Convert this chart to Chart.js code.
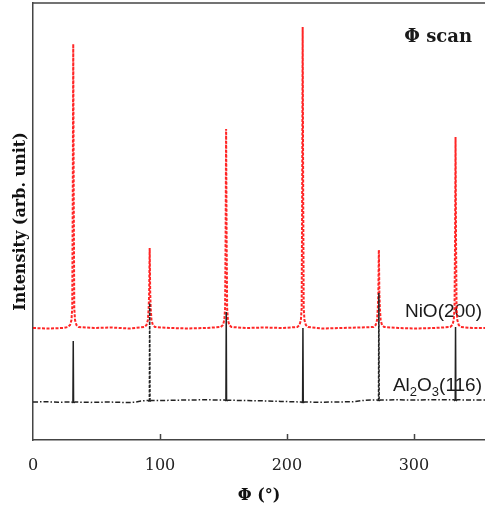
<!DOCTYPE html>
<html>
<head>
<meta charset="utf-8">
<script src="https://cdn.jsdelivr.net/npm/chart.js@4.4.1/dist/chart.umd.min.js"></script>
<style>
  html, body { margin: 0; padding: 0; background: #fff; overflow: hidden; }
  #phiChart { display: block; }
</style>
</head>
<body>
<canvas id="phiChart" width="485" height="508"></canvas>
<script>
'use strict';

// NiO(200) phi scan (arb. units)
var nioPhi = [0, 12, 24,
  27.5, 29.2, 30.3, 30.9, 31.3, 31.7, 32.1, 32.5, 33.1, 34.2, 35.9,
  48, 62, 76,
  87.7, 89.4, 90.5, 91.1, 91.5, 91.9, 92.3, 92.7, 93.3, 94.4, 96.1,
  108, 122, 136,
  147.9, 149.6, 150.7, 151.3, 151.7, 152.1, 152.5, 152.9, 153.5, 154.6, 156.3,
  168, 182, 196,
  208.2, 209.9, 211.0, 211.6, 212.0, 212.4, 212.8, 213.2, 213.8, 214.9, 216.6,
  228, 242, 256,
  268.2, 269.9, 271.0, 271.6, 272.0, 272.4, 272.8, 273.2, 273.8, 274.9, 276.6,
  288, 302, 316,
  328.6, 330.3, 331.4, 332.0, 332.4, 332.8, 333.2, 333.6, 334.2, 335.3, 337.0,
  346, 356];
var nioInt = [112, 111.5, 112,
  113, 115, 120, 132, 240, 396, 240, 132, 120, 115, 113,
  112, 112.5, 111.5,
  113, 115, 120, 132, 148, 192, 148, 132, 120, 115, 113,
  112, 111.5, 112,
  113, 115, 120, 132, 202, 311, 202, 132, 120, 115, 113,
  112, 112.5, 112,
  113, 115, 120, 132, 247, 413, 247, 132, 120, 115, 113,
  111.5, 112, 112.5,
  113, 115, 120, 132, 147, 190, 147, 132, 120, 115, 113,
  112, 111.5, 112,
  113, 115, 120, 132, 198, 303, 198, 132, 120, 115, 113,
  112, 112];

// Al2O3(116) phi scan
var alPhi = [0, 10, 20,
  30.5, 31.45, 31.7, 31.95, 33,
  45, 60, 72, 80, 85,
  90.7, 91.65, 91.9, 92.15, 93.1,
  105, 120, 135,
  151, 151.95, 152.2, 152.45, 153.4,
  165, 180, 195, 205,
  211.4, 212.35, 212.6, 212.85, 213.8,
  225, 240, 252, 262,
  271.2, 272.15, 272.4, 272.65, 273.6,
  285, 300, 315,
  331.6, 332.55, 332.8, 333.05, 334,
  345, 356];
var alInt = [38, 38.3, 37.8,
  38, 37, 99, 37, 38,
  37.6, 38, 37.5, 37.7, 39,
  39.5, 38.5, 137, 38.5, 39.5,
  39.6, 40, 40.2,
  40, 39, 128, 39, 39.8,
  39.5, 39.2, 38.6, 38.2,
  38, 37, 112, 37, 38,
  37.8, 38, 38.3, 39.8,
  40, 39, 147, 39, 40,
  40.2, 40, 40.3,
  40.2, 39.2, 113, 39.2, 40.2,
  40, 40.1];

var xTicks = [0, 100, 200, 300];
var xMin = 0;
var xMax = 356;
var yMin = 0;
var yMax = 437;

var toPoints = function(xs, ys) {
  var pts = [];
  for (var i = 0; i < xs.length; i++) {
    pts.push({x: xs[i], y: ys[i]});
  }
  return pts;
};

var frameColor = '#444';

// frame top line, inward ticks and text labels
var decorPlugin = {
  id: 'decor',
  beforeDatasetsDraw: function(chart) {
    var c = chart.ctx;
    c.save();
    c.fillStyle = '#1a1a1a';
    c.textBaseline = 'alphabetic';
    // NiO(200)
    c.font = '19px "Liberation Sans", Arial, sans-serif';
    c.textAlign = 'right';
    c.fillText('NiO(200)', 482, 317);
    // Al2O3(116) with subscripts
    var big = '19px "Liberation Sans", Arial, sans-serif';
    var small = '13px "Liberation Sans", Arial, sans-serif';
    var parts = [['Al', big, 0], ['2', small, 5], ['O', big, 0], ['3', small, 5], ['(116)', big, 0]];
    var total = 0;
    parts.forEach(function(p) { c.font = p[1]; total += c.measureText(p[0]).width; });
    var x = 482 - total;
    c.textAlign = 'left';
    parts.forEach(function(p) {
      c.font = p[1];
      c.fillText(p[0], x, 391 + p[2]);
      x += c.measureText(p[0]).width;
    });
    // title
    c.font = 'bold 18px "DejaVu Serif", serif';
    c.textAlign = 'right';
    c.fillText('\u03A6 scan', 472, 42);
    c.restore();
  },
  afterDatasetsDraw: function(chart) {
    var c = chart.ctx;
    var a = chart.chartArea;
    var xs = chart.scales.x;
    c.save();
    c.strokeStyle = frameColor;
    c.lineWidth = 1.5;
    c.beginPath();
    c.moveTo(a.left, a.top);
    c.lineTo(a.right + 2, a.top);
    c.stroke();
    c.beginPath();
    xTicks.forEach(function(v) {
      if (v === xMin) return;
      var px = Math.round(xs.getPixelForValue(v)) + 0.5;
      c.moveTo(px, a.bottom);
      c.lineTo(px, a.bottom - 6);
    });
    c.stroke();
    c.restore();
  }
};

var ctx = document.getElementById('phiChart').getContext('2d');

var alDash = function(seg) {
  var y0 = seg.p0.parsed.y;
  var y1 = seg.p1.parsed.y;
  if (Math.max(y0, y1) > 60) {
    var x = seg.p0.parsed.x;
    if ((x > 85 && x < 95) || (x > 265 && x < 280)) {
      return [3, 1.5];
    }
    return [];
  }
  return undefined;
};

var phiChart = new Chart(ctx, {
  type: 'line',
  data: {
    datasets: [{
      label: 'NiO(200)',
      data: toPoints(nioPhi, nioInt),
      borderColor: 'rgba(255,0,0,0.85)',
      borderWidth: 2,
      borderDash: [3, 1.5],
      pointRadius: 0,
      tension: 0,
      order: 1,
    }, {
      label: 'Al2O3(116)',
      data: toPoints(alPhi, alInt),
      borderColor: '#222',
      borderWidth: 1.5,
      borderDash: [5, 2, 1.5, 2],
      pointRadius: 0,
      tension: 0,
      order: 0,
      segment: {
        borderDash: alDash,
      },
    }],
  },
  options: {
    responsive: false,
    animation: false,
    devicePixelRatio: 1,
    layout: {
      padding: {left: 0, right: 0, top: 3, bottom: 0},
    },
    plugins: {
      legend: {display: false},
      tooltip: {enabled: false},
    },
    scales: {
      x: {
        type: 'linear',
        min: xMin,
        max: xMax,
        afterFit: function(s) { s.height = 68; },
        afterBuildTicks: function(s) {
          s.ticks = xTicks.map(function(v) { return {value: v}; });
        },
        grid: {
          display: true,
          drawOnChartArea: false,
          drawTicks: false,
        },
        border: {display: true, color: frameColor, width: 1.5},
        ticks: {
          padding: 16,
          color: '#222',
          font: {family: '"DejaVu Serif", serif', size: 16},
          maxRotation: 0,
        },
        title: {
          display: true,
          text: '\u03A6 (\u00B0)',
          color: '#111',
          font: {family: '"DejaVu Serif", serif', size: 16, weight: 'bold'},
          padding: {top: 0, bottom: 3},
        },
      },
      y: {
        type: 'linear',
        min: yMin,
        max: yMax,
        afterFit: function(s) { s.width = 33; },
        grid: {
          display: true,
          drawOnChartArea: false,
          drawTicks: false,
        },
        border: {display: true, color: frameColor, width: 1.5},
        ticks: {display: false},
        title: {
          display: true,
          text: 'Intensity (arb. unit)',
          color: '#111',
          font: {family: '"DejaVu Serif", serif', size: 16, weight: 'bold'},
          padding: {top: 11, bottom: 0},
        },
      },
    },
  },
  plugins: [decorPlugin],
});
</script>
</body>
</html>
